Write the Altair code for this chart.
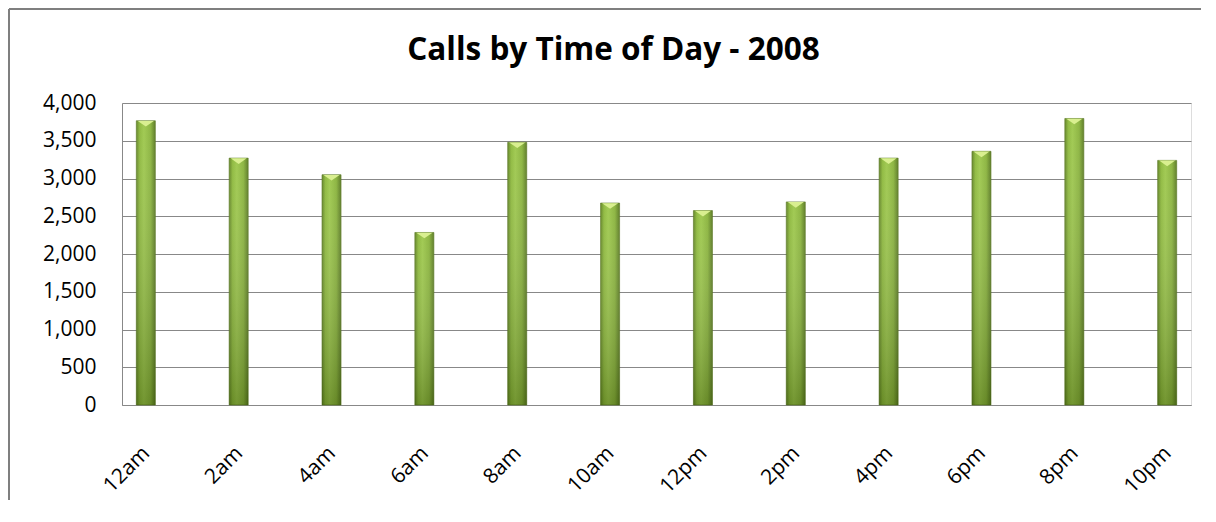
import altair as alt
import pandas as pd

hours = ["12am", "2am", "4am", "6am", "8am", "10am", "12pm", "2pm", "4pm", "6pm", "8pm", "10pm"]
calls = [3765, 3270, 3050, 2285, 3480, 2675, 2575, 2690, 3270, 3360, 3795, 3240]
y_ticks = [0, 500, 1000, 1500, 2000, 2500, 3000, 3500, 4000]
chart_title = "Calls by Time of Day - 2008"

df = pd.DataFrame({"hour": hours, "calls": calls})
one = pd.DataFrame({"a": [0]})

FONT = "Open Sans"
GRID = "#888888"

x_enc = alt.X(
    "hour:N",
    sort=hours,
    scale=alt.Scale(paddingInner=0.795, paddingOuter=0.154),
    axis=alt.Axis(
        title=None,
        labelAngle=-45,
        labelAlign="right",
        labelBaseline="top",
        labelPadding=37,
        labelOffset=-7,
        ticks=False,
        grid=False,
        domainColor=GRID,
        domainWidth=1,
        labelFont=FONT,
        labelFontSize=21,
        labelColor="#000000",
    ),
)
y_enc = alt.Y(
    "calls:Q",
    scale=alt.Scale(domain=[0, 4000], nice=False),
    axis=alt.Axis(
        title=None,
        values=y_ticks,
        format=",.0f",
        ticks=False,
        labelPadding=26,
        grid=True,
        gridColor=GRID,
        gridWidth=1,
        domainColor=GRID,
        domainWidth=1,
        labelFont=FONT,
        labelFontSize=21,
        labelColor="#000000",
    ),
)

horiz = {
    "gradient": "linear",
    "x1": 0, "x2": 1, "y1": 0, "y2": 0,
    "stops": [
        {"offset": 0, "color": "#5f8222"},
        {"offset": 0.18, "color": "#8cb83a"},
        {"offset": 0.4, "color": "#9cc74a"},
        {"offset": 0.75, "color": "#88b23a"},
        {"offset": 1, "color": "#587820"},
    ],
}
vert = {
    "gradient": "linear",
    "x1": 0, "x2": 0, "y1": 0, "y2": 1,
    "stops": [
        {"offset": 0, "color": "rgba(255,255,255,0.05)"},
        {"offset": 1, "color": "rgba(40,60,5,0.35)"},
    ],
}

bars = alt.Chart(df).mark_bar(color=horiz, stroke="#56741f", strokeWidth=0.6).encode(x=x_enc, y=y_enc)
shade = alt.Chart(df).mark_bar(color=vert).encode(x=x_enc, y=y_enc)
tri = alt.Chart(df).mark_point(
    shape="M -1 -0.35 L 1 -0.35 L 0 0.35 Z",
    filled=True,
    color="#d9ef90",
    opacity=1,
    size=260,
    yOffset=3,
).encode(x=x_enc, y=y_enc)

left_border = alt.Chart(one).mark_rule(color="#7f7f7f", strokeWidth=2).encode(
    x=alt.value(-113), y=alt.value(-94), y2=alt.value(420)
)
top_border = alt.Chart(one).mark_rule(color="#7f7f7f", strokeWidth=2).encode(
    x=alt.value(-113), x2=alt.value(1090), y=alt.value(-94)
)

chart = (
    alt.layer(left_border, top_border, bars, shade, tri)
    .properties(
        width=1069,
        height=302,
        title=alt.TitleParams(
            chart_title,
            font=FONT,
            fontSize=31.5,
            fontWeight="bold",
            color="#000000",
            anchor="middle",
            baseline="bottom",
            dx=-43,
            offset=-90,
        ),
        autosize=alt.AutoSizeParams(type="none"),
        padding={"left": 114, "top": 95, "right": 10, "bottom": 95},
    )
    .configure_view(stroke=None)
    .configure(background="white")
)

chart.save("out.html", embed_options={"renderer": "svg", "actions": False})
